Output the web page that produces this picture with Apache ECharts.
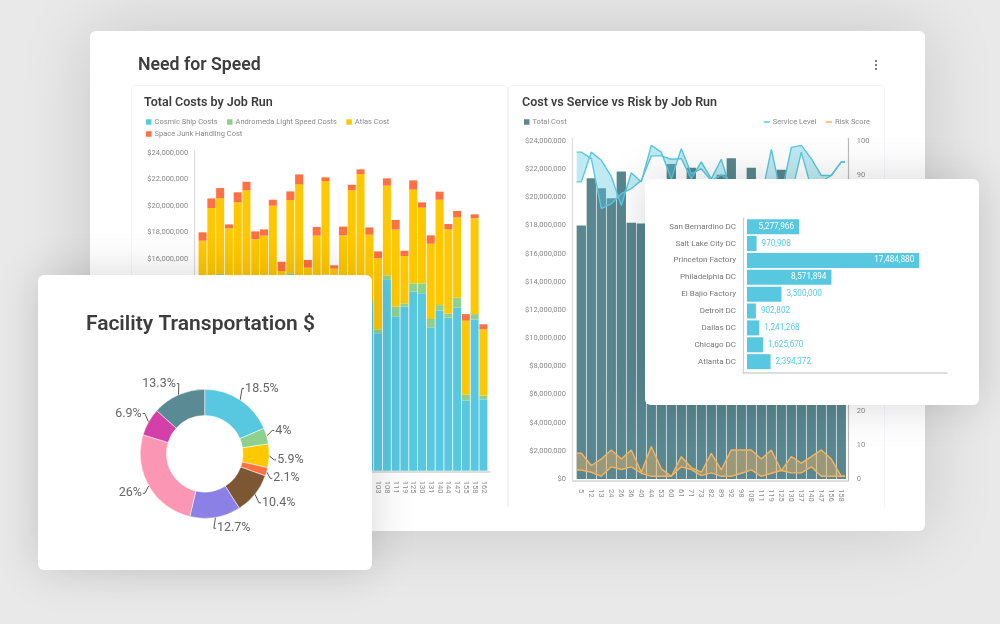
<!DOCTYPE html>
<html><head><meta charset="utf-8">
<script src="https://cdn.jsdelivr.net/npm/echarts@6/dist/echarts.min.js"></script>
<style>
html,body{margin:0;padding:0;width:1000px;height:624px;overflow:hidden;background:#e9e9e9;font-family:Roboto,sans-serif}
.card{position:absolute;background:#fff;border-radius:6px}
.layer{position:absolute;left:0;top:0;width:1000px;height:624px}
#main{left:90px;top:31px;width:835px;height:500px;box-shadow:0 0 70px rgba(0,0,0,.15)}
#cardR{left:645px;top:179px;width:334px;height:226px;box-shadow:0 0 45px rgba(0,0,0,.16)}
#cardL{left:38px;top:275px;width:334px;height:295px;box-shadow:0 0 45px rgba(0,0,0,.16)}
.panel{position:absolute;top:85px;height:422px;border:1px solid #f4f4fa;border-bottom:0;border-radius:4px 4px 0 0;box-sizing:border-box}
.dot{position:absolute;left:875px;width:2px;height:2px;border-radius:50%;background:#555}
</style></head><body>
<div class="card" id="main"></div>
<div class="panel" style="left:131px;width:377px"></div>
<div class="panel" style="left:508px;width:377px"></div>
<div class="dot" style="top:60px"></div><div class="dot" style="top:64px"></div><div class="dot" style="top:68px"></div>
<div class="layer" id="c1"></div>
<div class="card" id="cardR"></div>
<div class="layer" id="c2"></div>
<div class="card" id="cardL"></div>
<div class="layer" id="c3"></div>
<script>
// ----- Total Costs by Job Run ($ millions)
const jobRunsLeft = ['2','5','12','13','18','24','26','36','40','44','53','60','61','71','73','82','89','92','98','101','103','108','111','119','125','130','131','140','144','147','155','158','162'];
const cosmicShip = [12.6,13.5,14.7,13.1,13.8,14.0,12.4,13.0,13.2,14.0,14.77,13.4,14.2,12.9,14.6,13.6,12.8,13.0,13.5,12.5,10.37,14.4,11.63,12.38,13.51,13.39,10.8,12.1,11.55,12.3,5.28,11.42,5.38];
const andromeda = [.4,.3,.15,.3,.3,.4,.4,.3,.4,.5,.13,.5,.5,.4,.2,.5,.4,.4,.4,.4,.3,.35,.75,.25,.63,.75,.65,.4,.3,.75,.45,.4,.3];
const atlas = [4.36,6.02,5.70,4.89,6.15,6.76,4.66,4.44,6.4,.57,5.53,7.71,.62,4.44,7.06,1.15,4.56,7.76,8.49,4.91,5.36,6.76,5.83,3.57,7.07,5.71,5.68,7.95,6.36,6.07,5.59,7.22,4.99];
const spaceJunk = [.63,.73,.78,.30,.76,.65,.60,.47,.45,.70,.65,.75,.58,.65,.28,.25,.66,.42,.35,.55,.52,.55,.71,.40,.70,.40,.63,.61,.41,.48,.50,.31,.38];
// ----- Cost vs Service vs Risk
const jobRunsRight = ['5','12','13','24','26','36','40','44','53','60','61','71','73','82','89','92','98','108','111','119','125','130','137','140','147','156','158'];
const totalCost = [18.0,21.36,20.65,19.93,21.83,18.2,18.15,17.8,19.2,22.37,20.6,22.1,18.4,16.5,21.6,22.78,18.8,22.1,20.4,17.5,21.95,19.6,18,20.8,20,19.2,17];
const serviceA = [96.7,94.8,80.0,81.4,84.4,85.9,88.3,95.6,95.6,94.6,94.8,88.8,93.8,88.8,94.6,85,82,84,83,97.5,84,98.1,98.7,94.8,89.8,89.8,93.8];
const serviceB = [87.9,96.7,94.3,89.5,80.9,90.6,87.9,98.7,96.7,88.8,97.7,90.3,91.8,88.2,90,88,86,85,85,84,82,84,96.7,86,88,89.8,93.8];
const riskA = [7.6,4.0,5.9,8.6,5.9,8.6,2.0,9.6,3.0,0.8,6.6,3.4,2.0,7.6,2.7,8.6,8.6,8.6,5.9,8.6,2.5,6.6,4.7,6.6,8.6,5.9,0.8];
const riskB = [2.65,2.0,0.8,3.6,2.8,3.6,1.7,0.8,0.8,0.8,3.6,2.8,1.0,1.8,0.8,0.8,1.7,2.7,0.8,1.7,2.5,1.8,1.8,3.6,0.8,0.8,0.8];
// ----- Facility bars
const facilities = ['San Bernardino DC','Salt Lake City DC','Princeton Factory','Philadelphia DC','El Bajio Factory','Detroit DC','Dallas DC','Chicago DC','Atlanta DC'];
const facilityCost = [5277966,970908,17484880,8571894,3500000,902802,1241268,1625670,2394372];
// ----- Donut
const donutShare = [18.5,4,5.9,2.1,10.4,12.7,26,6.9,13.3];
const donutColors = ['#58c8e0','#8ed18f','#ffc800','#ff7043','#7d5734','#8b80e6','#fb97b5','#d53fa8','#5a8a94'];
const donutLabelShift = [[-3,-4],[-3,-3],[-4,3.7],[-5,4],[-3,3],[-3,2],[4,3],[4,-4],[4,-3]];

const CY='#58c8e0',GR='#8ed18f',YE='#ffc800',OR='#ff7043',SL='#588790',LO='#f4b35e';
const FF='Roboto',TXT='#8a8a8a',HD='#3d3d3d',AX='#d4d4d4';
const money=v=>'$'+(v*1e6).toLocaleString('en-US');
const frameX=(g)=>({type:'value',gridIndex:g,min:0,max:1,axisLine:{show:true,onZero:false,lineStyle:{color:AX,width:1.5}},axisTick:{show:false},axisLabel:{show:false},splitLine:{show:false}});
const frameY=(g,pos,col)=>({type:'value',gridIndex:g,position:pos,min:0,max:1,axisLine:{show:true,onZero:false,lineStyle:{color:col||AX,width:1.2}},axisTick:{show:false},axisLabel:{show:false},splitLine:{show:false}});
const catX=(g,data)=>({type:'category',gridIndex:g,data,axisLine:{show:false},axisTick:{show:false},axisLabel:{interval:0,rotate:-90,fontSize:7.5,fontFamily:FF,color:TXT,margin:10,verticalAlign:'middle'}});
// the lines run a little past the first and last bar centre, flat to the plot edges
const n=jobRunsRight.length;
const padded=a=>[[-0.46,a[0]],...a.map((v,i)=>[i,v]),[n-1+0.36,a[n-1]]];
const band=(name,x,y,a,b,color)=>{const A=padded(a),B=padded(b);return {name,type:'custom',z:3,xAxisIndex:x,yAxisIndex:y,silent:true,data:A,
  renderItem(p,api){ if(p.dataIndex!==0) return;
    const pts=A.map(d=>api.coord(d)); for(let i=B.length-1;i>=0;i--) pts.push(api.coord(B[i]));
    return {type:'polygon',shape:{points:pts},style:{fill:color}};}};};
const ln=(name,x,y,data,color)=>({name,type:'line',z:4,xAxisIndex:x,yAxisIndex:y,data:padded(data),symbol:'none',itemStyle:{color},lineStyle:{color,width:1.4}});
const stackBar=(name,data,color)=>({name,type:'bar',stack:'t',xAxisIndex:0,yAxisIndex:0,data,barCategoryGap:'9%',itemStyle:{color}});
const lg=(pos,data,extra)=>Object.assign({top:pos.top,itemWidth:5.5,itemHeight:5.5,itemGap:9.5,icon:'rect',padding:0,textStyle:{fontFamily:FF,fontSize:7.5,color:TXT,padding:[0,0,0,-2]},data},pos,extra);

echarts.init(document.getElementById('c1')).setOption({
  animation:false,
  title:[
    {text:'Need for Speed',left:138,top:57,padding:0,textStyle:{fontFamily:FF,fontSize:17.7,fontWeight:600,color:HD}},
    {text:'Total Costs by Job Run',left:144,top:96,padding:0,textStyle:{fontFamily:FF,fontSize:12.5,fontWeight:600,color:HD}},
    {text:'Cost vs Service vs Risk by Job Run',left:522,top:96,padding:0,textStyle:{fontFamily:FF,fontSize:12.5,fontWeight:600,color:HD}}
  ],
  legend:[
    lg({left:146,top:118},['Cosmic Ship Costs','Andromeda Light Speed Costs','Atlas Cost']),
    lg({left:146,top:130},['Space Junk Handling Cost']),
    lg({left:524,top:118},['Total Cost']),
    lg({right:130,top:118},['Service Level','Risk Score'],{itemWidth:6,itemHeight:1.5})
  ],
  grid:[
    {left:198.2,top:152.7,width:289.6,height:318},
    {left:194.5,top:150.7,width:295.5,height:321.3},
    {left:576.3,top:141,width:270,height:338},
    {left:572.7,top:138.3,width:275.3,height:342.4}
  ],
  xAxis:[catX(0,jobRunsLeft),frameX(1),catX(2,jobRunsRight),frameX(3),
    {type:'value',gridIndex:2,min:-0.5,max:n-0.5,show:false}],
  yAxis:[
    {type:'value',gridIndex:0,min:0,max:24,interval:2,axisLine:{show:false},axisTick:{show:false},splitLine:{show:false},axisLabel:{margin:10,fontSize:7.5,fontFamily:FF,color:TXT,formatter:money}},
    frameY(1,'left','#dddddd'),
    {type:'value',gridIndex:2,min:0,max:24,interval:2,axisLine:{show:false},axisTick:{show:false},splitLine:{show:false},axisLabel:{margin:10.3,fontSize:7.5,fontFamily:FF,color:TXT,formatter:money}},
    {type:'value',gridIndex:2,position:'right',min:0,max:100,interval:10,axisLine:{show:false},axisTick:{show:false},splitLine:{show:false},axisLabel:{margin:10.5,fontSize:7.5,fontFamily:FF,color:TXT}},
    frameY(3,'left','#dddddd'),
    frameY(3,'right','#bdbdbd')
  ],
  series:[
    stackBar('Cosmic Ship Costs',cosmicShip,CY),
    stackBar('Andromeda Light Speed Costs',andromeda,GR),
    stackBar('Atlas Cost',atlas,YE),
    stackBar('Space Junk Handling Cost',spaceJunk,OR),
    {name:'Total Cost',type:'bar',xAxisIndex:2,yAxisIndex:2,data:totalCost,barCategoryGap:'7%',itemStyle:{color:SL}},
    band('Service band',4,3,serviceA,serviceB,'rgba(88,200,224,.38)'),
    band('Risk band',4,3,riskA,riskB,'rgba(244,179,94,.42)'),
    ln('Service Level',4,3,serviceA,CY),
    ln('Service Level',4,3,serviceB,CY),
    ln('Risk Score',4,3,riskA,LO),
    ln('Risk Score',4,3,riskB,LO)
  ]
});

echarts.init(document.getElementById('c2')).setOption({
  animation:false,
  grid:[{left:747,top:218.2,width:200,height:151.9},{left:743,top:218,width:204,height:155}],
  xAxis:[{type:'value',gridIndex:0,min:0,max:20300000,show:false},frameX(1)],
  yAxis:[{type:'category',gridIndex:0,inverse:true,data:facilities,axisLine:{show:false},axisTick:{show:false},axisLabel:{fontSize:8,fontFamily:FF,color:'#777',margin:11}},frameY(1,'left','#d0d0d0')],
  series:[{type:'bar',xAxisIndex:0,yAxisIndex:0,barCategoryGap:'11%',
    itemStyle:{color:CY},
    data:facilityCost.map(v=>({value:v,label:v>=5000000?{position:'insideRight',color:'#fff',distance:5}:{position:'right',color:CY,distance:5}})),
    label:{show:true,fontSize:8.2,fontFamily:FF,formatter:p=>p.value.toLocaleString('en-US')}}]
});

echarts.init(document.getElementById('c3')).setOption({
  animation:false,
  title:{text:'Facility Transportation $',left:200.5,textAlign:'center',top:314.5,padding:0,textStyle:{fontFamily:FF,fontSize:21,fontWeight:600,color:HD}},
  series:[{type:'pie',center:[204.7,453.8],radius:[38.3,64.5],startAngle:90,
    data:donutShare.map((v,i)=>({value:v,name:String(i),itemStyle:{color:donutColors[i]}})),
    itemStyle:{borderColor:'#fff',borderWidth:.5},
    label:{formatter:'{c}%',fontSize:12.5,fontFamily:FF,color:'#666',distanceToLabelLine:1},
    labelLine:{length:9,length2:2,lineStyle:{color:'#555',width:1}},
    labelLayout(p){
      const [dx,dy]=donutLabelShift[p.dataIndex];
      const out={dx,dy};
      if(p.labelLinePoints){const q=p.labelLinePoints; out.labelLinePoints=[q[0],[q[1][0]+dx,q[1][1]+dy],[q[2][0]+dx,q[2][1]+dy]];}
      return out;
    }}]
});
</script></body></html>
